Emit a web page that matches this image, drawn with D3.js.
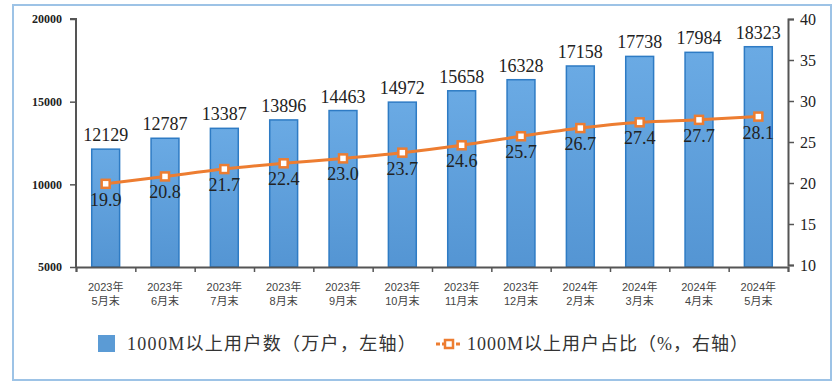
<!DOCTYPE html>
<html>
<head>
<meta charset="utf-8">
<script src="https://cdn.jsdelivr.net/npm/d3@7"></script>
<style>
  body { margin: 0; background: #fff; }
  svg { display: block; }
</style>
</head>
<body>
<svg class="chart"></svg>
<script>
// donnees
let annees = ["2023年","2023年","2023年","2023年","2023年","2023年","2023年","2023年","2024年","2024年","2024年","2024年"];
let mois = ["5月末","6月末","7月末","8月末","9月末","10月末","11月末","12月末","2月末","3月末","4月末","5月末"];
let utilisateurs = [12129, 12787, 13387, 13896, 14463, 14972, 15658, 16328, 17158, 17738, 17984, 18323];
let part = [19.9, 20.8, 21.7, 22.4, 23.0, 23.7, 24.6, 25.7, 26.7, 27.4, 27.7, 28.1];
let ticksGauche = [5000, 10000, 15000, 20000];
let ticksDroite = [10, 15, 20, 25, 30, 35, 40];
let legende1 = "1000M以上用户数（万户，左轴）";
let legende2 = "1000M以上用户占比（%，右轴）";

let w = 837, h = 384;
let svg = d3.select(".chart").attr("width", w).attr("height", h);

let serif = "'Liberation Serif', 'Times New Roman', 'Noto Sans CJK SC', serif";
let sans = "'Liberation Sans', Arial, 'Noto Sans CJK SC', sans-serif";

// cadre
svg.append("rect")
  .attr("x", 13).attr("y", 5).attr("width", 818).attr("height", 375)
  .attr("fill", "none").attr("stroke", "#9dc3e6").attr("stroke-width", 2);

let gauche = 76, droite = 788, haut = 19, bas = 267;

let cles = d3.range(utilisateurs.length);
let x = d3.scaleBand().domain(cles).range([gauche, droite]).paddingInner(0.53).paddingOuter(0.265);
let xb = d3.scaleLinear().domain([0, cles.length]).range([gauche, droite]);
let y = d3.scaleLinear().domain([5000, 20000]).range([bas, haut]);
let y2 = d3.scaleLinear().domain([10, 40]).range([bas - 2, haut]);

// degrade des barres
let defs = svg.append("defs");
let grad = defs.append("linearGradient").attr("id", "bleu").attr("x1", 0).attr("y1", 0).attr("x2", 0).attr("y2", 1);
grad.append("stop").attr("offset", "0%").attr("stop-color", "#6aaae4");
grad.append("stop").attr("offset", "100%").attr("stop-color", "#5495d3");

// barres
svg.append("g").selectAll("rect")
  .data(utilisateurs)
  .enter().append("rect")
  .attr("x", (d, i) => x(i))
  .attr("y", d => y(d))
  .attr("width", x.bandwidth())
  .attr("height", d => bas - y(d))
  .attr("fill", "url(#bleu)")
  .attr("stroke", "#2e7bc4")
  .attr("stroke-width", 1.5);

// valeurs des barres
svg.append("g").selectAll("text")
  .data(utilisateurs)
  .enter().append("text")
  .attr("x", (d, i) => x(i) + x.bandwidth() / 2)
  .attr("y", d => y(d) - 8)
  .attr("text-anchor", "middle")
  .attr("font-family", serif)
  .attr("font-size", 18)
  .attr("fill", "#222")
  .text(d => d);

// axe gauche
let axeG = svg.append("g")
  .attr("transform", "translate(" + gauche + ",0)")
  .call(d3.axisLeft(y).tickValues(ticksGauche).tickSize(6).tickPadding(8).tickFormat(d3.format("d")));
axeG.select(".domain").attr("stroke", "#555").attr("stroke-width", 2).attr("d", "M-6," + y(20000) + "H0V" + bas);
axeG.selectAll(".tick line").attr("stroke", "#555").attr("stroke-width", 1.5);
axeG.selectAll(".tick text")
  .attr("font-family", serif).attr("font-size", 12).attr("font-weight", "bold").attr("fill", "#222");

// axe droit
let axeD = svg.append("g")
  .attr("transform", "translate(" + droite + ",0)")
  .call(d3.axisRight(y2).tickValues(ticksDroite).tickSize(6).tickPadding(6));
axeD.select(".domain").attr("stroke", "#555").attr("stroke-width", 2);
axeD.selectAll(".tick line").attr("stroke", "#555").attr("stroke-width", 1.5);
axeD.selectAll(".tick text")
  .attr("font-family", serif).attr("font-size", 16).attr("fill", "#222");

// axe du bas
let axeB = svg.append("g")
  .attr("transform", "translate(0," + bas + ")")
  .call(d3.axisBottom(xb).ticks(cles.length).tickSize(5).tickFormat(""));
axeB.select(".domain").attr("stroke", "#555").attr("stroke-width", 2);
axeB.selectAll(".tick line").attr("stroke", "#555").attr("stroke-width", 1.5);

// libelles des categories (deux lignes)
svg.append("g").selectAll("text")
  .data(cles)
  .enter().append("text")
  .attr("x", i => x(i) + x.bandwidth() / 2)
  .attr("y", 291)
  .attr("text-anchor", "middle")
  .attr("font-family", sans)
  .attr("font-size", 11)
  .attr("fill", "#444")
  .text(i => annees[i]);
svg.append("g").selectAll("text")
  .data(cles)
  .enter().append("text")
  .attr("x", i => x(i) + x.bandwidth() / 2)
  .attr("y", 305)
  .attr("text-anchor", "middle")
  .attr("font-family", sans)
  .attr("font-size", 11)
  .attr("fill", "#444")
  .text(i => mois[i]);

// ligne
let ligne = d3.line()
  .x((d, i) => x(i) + x.bandwidth() / 2)
  .y(d => y2(d))
  .curve(d3.curveMonotoneX);

svg.append("path")
  .datum(part)
  .attr("d", ligne)
  .attr("fill", "none")
  .attr("stroke", "#ed7d31")
  .attr("stroke-width", 3);

svg.append("g").selectAll("rect")
  .data(part)
  .enter().append("rect")
  .attr("x", (d, i) => x(i) + x.bandwidth() / 2 - 4)
  .attr("y", d => y2(d) - 4)
  .attr("width", 8).attr("height", 8)
  .attr("fill", "#fff")
  .attr("stroke", "#ed7d31")
  .attr("stroke-width", 2.5);

// valeurs de la ligne
svg.append("g").selectAll("text")
  .data(part)
  .enter().append("text")
  .attr("x", (d, i) => x(i) + x.bandwidth() / 2)
  .attr("y", d => y2(d) + 22)
  .attr("text-anchor", "middle")
  .attr("font-family", serif)
  .attr("font-size", 18)
  .attr("fill", "#222")
  .text(d => d.toFixed(1));

// legende
let leg = svg.append("g");
leg.append("rect")
  .attr("x", 98).attr("y", 335).attr("width", 17).attr("height", 17)
  .attr("fill", "#5b9bd5");
leg.append("text")
  .attr("x", 127).attr("y", 350)
  .attr("font-family", serif).attr("font-size", 18).attr("letter-spacing", 1.3).attr("fill", "#333")
  .text(legende1);

leg.append("line")
  .attr("x1", 436).attr("x2", 462).attr("y1", 344).attr("y2", 344)
  .attr("stroke", "#ed7d31").attr("stroke-width", 3).attr("stroke-dasharray", "4,2,12,2,4");
leg.append("rect")
  .attr("x", 445).attr("y", 340).attr("width", 8).attr("height", 8)
  .attr("fill", "#fff").attr("stroke", "#ed7d31").attr("stroke-width", 2.5);
leg.append("text")
  .attr("x", 467).attr("y", 350)
  .attr("font-family", serif).attr("font-size", 18).attr("letter-spacing", 1).attr("fill", "#333")
  .text(legende2);
</script>
</body>
</html>
